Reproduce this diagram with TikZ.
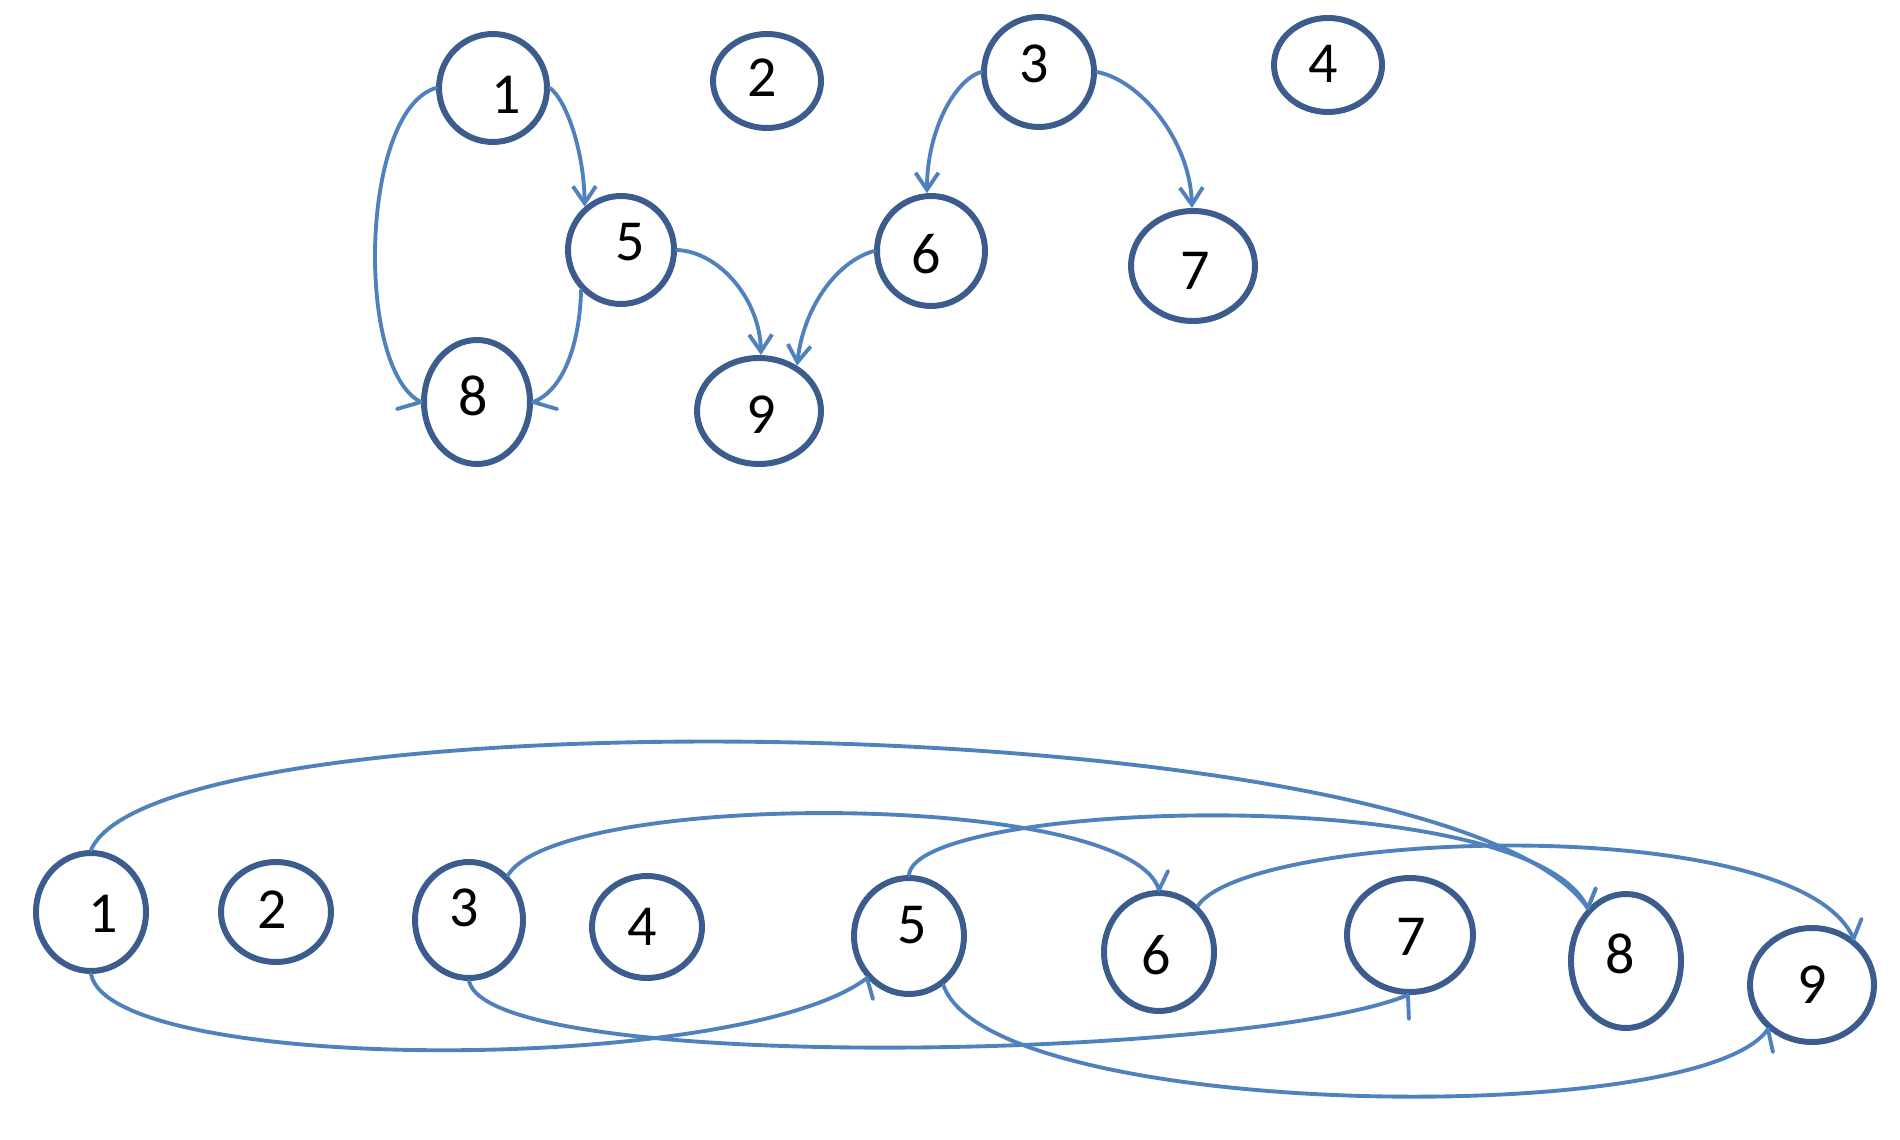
\documentclass[tikz,border=0pt]{standalone}
\usepackage{fontspec}
\setmainfont{Carlito}
\usetikzlibrary{shapes.geometric,arrows.meta}
\definecolor{nodeblue}{RGB}{59,92,140}
\definecolor{edgeblue}{RGB}{79,129,189}
\begin{document}
\begin{tikzpicture}[x=0.01cm,y=-0.01cm,
  font=\fontsize{16.5}{16.5}\selectfont,
  nd/.style 2 args={ellipse, draw=nodeblue, line width=1.7pt, inner sep=0pt,
    minimum width={(2*#1-6)*0.01cm}, minimum height={(2*#2-6)*0.01cm}},
  edge/.style={draw=edgeblue, line width=1.1pt, line join=round, line cap=round},
  arr/.style={-{Straight Barb[length=0.17cm,width=0.23cm]}}]
\useasboundingbox (0,0) rectangle (1900,1140);

% top graph
\node[nd={57}{57}, label={[shift={(13,7)}]center:1}] (t1) at (493,88) {};
\node[nd={57}{50}, label={[shift={(-5,-3)}]center:2}] (t2) at (767,81) {};
\node[nd={58}{58}, label={[shift={(-5,-8)}]center:3}] (t3) at (1039,72) {};
\node[nd={57}{50}, label={[shift={(-5,-1)}]center:4}] (t4) at (1328,65) {};
\node[nd={56}{57}, label={[shift={(9,-8)}]center:5}] (t5) at (621,250) {};
\node[nd={57}{58}, label={[shift={(-5,3)}]center:6}] (t6) at (931,251) {};
\node[nd={65}{58}, label={[shift={(2,5)}]center:7}] (t7) at (1193,266) {};
\node[nd={56}{65}, label={[shift={(-4,-6)}]center:8}] (t8) at (477,402) {};
\node[nd={65}{56}, label={[shift={(2,4)}]center:9}] (t9) at (759,411) {};

\draw[edge,arr] (t1.0) .. controls (566,100) and (584,150) .. (t5.130);
\draw[edge] (t1.180) .. controls (360,110) and (355,370) .. (t8.180) -- ++(-24,7);
\draw[edge] (t5.225) .. controls (580,340) and (565,390) .. (t8.0) -- ++(24,7);
\draw[edge,arr] (t5.0) .. controls (720,252) and (760,300) .. (t9.88);
\draw[edge,arr] (t6.180) .. controls (835,262) and (803,310) .. (t9.50);
\draw[edge,arr] (t3.180) .. controls (955,80) and (927,130) .. (t6.94);
\draw[edge,arr] (t3.0) .. controls (1140,80) and (1190,140) .. (t7.91);

% bottom graph
\node[nd={58}{62}, label={[shift={(12,2)}]center:1}] (b1) at (91,912) {};
\node[nd={58}{53}, label={[shift={(-4,-2)}]center:2}] (b2) at (276,912) {};
\node[nd={57}{61}, label={[shift={(-5,-12)}]center:3}] (b3) at (469,920) {};
\node[nd={58}{54}, label={[shift={(-5,0)}]center:4}] (b4) at (647,927) {};
\node[nd={58}{61}, label={[shift={(3,-11)}]center:5}] (b5) at (909,936) {};
\node[nd={58}{62}, label={[shift={(-3,3)}]center:6}] (b6) at (1159,952) {};
\node[nd={66}{60}, label={[shift={(1,2)}]center:7}] (b7) at (1410,935) {};
\node[nd={58}{70}, label={[shift={(-6,-7)}]center:8}] (b8) at (1626,961) {};
\node[nd={65}{60}, label={[shift={(0,0)}]center:9}] (b9) at (1812,985) {};

\draw[edge] (b1.90) .. controls (160,690) and (1450,705) .. (b8.126) -- ++(8,-20);
\draw[edge] (b5.90) .. controls (915,800) and (1530,780) .. (b8.126) -- ++(8,-20);
\draw[edge] (b3.49) .. controls (560,790) and (1130,790) .. (b6.90) -- ++(9,-19);
\draw[edge] (b6.50) .. controls (1250,830) and (1800,810) .. (b9.48) -- ++(8,-20);
\draw[edge] (b1.270) .. controls (110,1075) and (740,1075) .. (b5.225) -- ++(6,21);
\draw[edge] (b3.270) .. controls (490,1075) and (1250,1060) .. (b7.268) -- ++(1,24);
\draw[edge] (b5.305) .. controls (990,1120) and (1700,1130) .. (b9.225) -- ++(5,23);
\end{tikzpicture}
\end{document}
